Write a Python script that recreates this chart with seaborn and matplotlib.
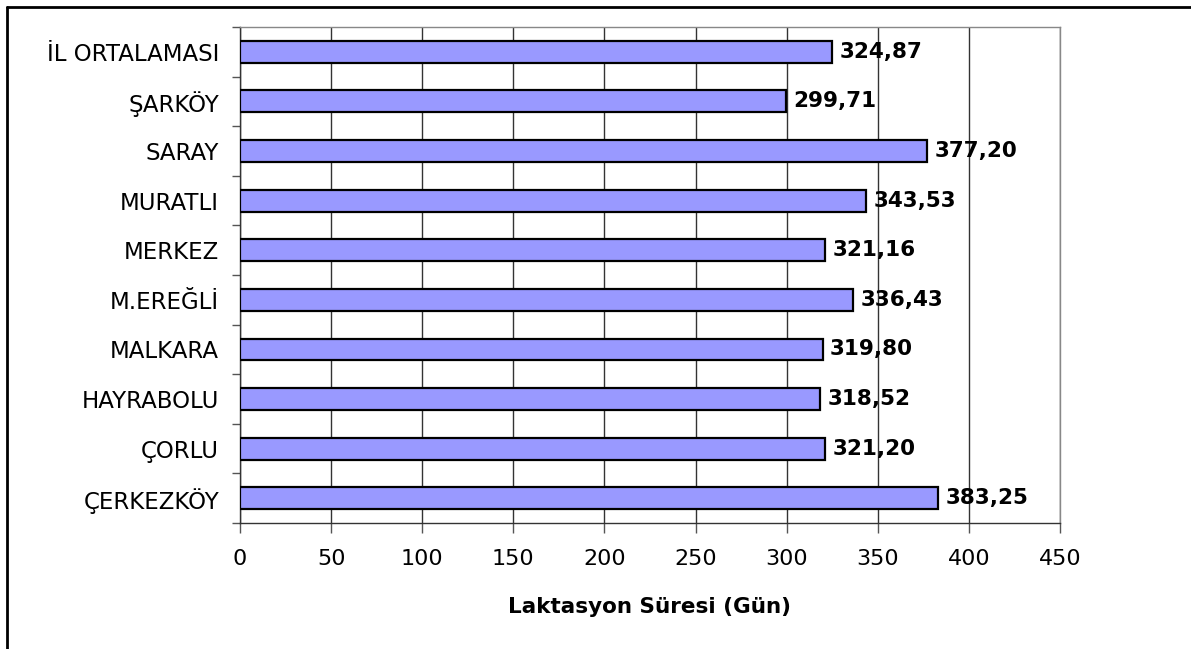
import numpy as np
import pandas as pd
import matplotlib
matplotlib.use("Agg")
import matplotlib.pyplot as plt
from matplotlib.lines import Line2D
import seaborn as sns

ilceler = ["İL ORTALAMASI", "ŞARKÖY", "SARAY", "MURATLI", "MERKEZ",
           "M.EREĞLİ", "MALKARA", "HAYRABOLU", "ÇORLU", "ÇERKEZKÖY"]
laktasyon = [324.87, 299.71, 377.20, 343.53, 321.16,
             336.43, 319.80, 318.52, 321.20, 383.25]
xticks = [0, 50, 100, 150, 200, 250, 300, 350, 400, 450]

df = pd.DataFrame({"ilce": ilceler, "gun": laktasyon})

sns.set_style("white")
plt.rcParams["font.family"] = ["DejaVu Sans"]
plt.rcParams["text.color"] = "black"
plt.rcParams["xtick.color"] = "#555555"
plt.rcParams["ytick.color"] = "#555555"
plt.rcParams["xtick.labelcolor"] = "black"
plt.rcParams["ytick.labelcolor"] = "black"
plt.rcParams["axes.labelcolor"] = "black"

fig = plt.figure(figsize=(11.91, 6.49), dpi=100)
ax = fig.add_axes([0.2015, 0.1941, 0.6885, 0.7643])

sns.barplot(data=df, x="gun", y="ilce", orient="h", color="#9999FF",
            saturation=1, edgecolor="black", linewidth=1.6, width=0.44,
            ax=ax, zorder=3)

ax.set_xlim(0, 450)
ax.set_xticks(xticks)
ax.set_xticklabels([str(t) for t in xticks], fontsize=16)
ax.set_ylim(len(ilceler) - 0.5, -0.5)
ax.tick_params(axis="y", which="major", labelsize=16.5, length=0, pad=15, left=False)
ax.set_yticks(np.arange(len(ilceler) + 1) - 0.5, minor=True)
ax.tick_params(axis="y", which="minor", length=6, width=1, direction="out", left=True)
ax.tick_params(axis="x", which="major", length=7, width=1, direction="out", pad=12, bottom=True)
ax.xaxis.grid(True, color="#333333", linewidth=1, zorder=0)
ax.set_axisbelow(True)

ax.set_ylabel("")
ax.set_xlabel("Laktasyon Süresi (Gün)", fontsize=15.5, fontweight="bold", labelpad=20)

for side in ["top", "right"]:
    ax.spines[side].set_color("#888888")
    ax.spines[side].set_linewidth(1)
for side in ["left", "bottom"]:
    ax.spines[side].set_color("#333333")
    ax.spines[side].set_linewidth(1)

for i, v in enumerate(laktasyon):
    lbl = f"{v:.2f}".replace(".", ",")
    ax.text(v + 4, i, lbl, va="center", ha="left", fontsize=15.5,
            fontweight="bold", zorder=4)

fig.add_artist(Line2D([7 / 1191, 7 / 1191], [0, 1 - 7 / 649], color="black", linewidth=2,
                      transform=fig.transFigure))
fig.add_artist(Line2D([7 / 1191, 1], [1 - 7 / 649, 1 - 7 / 649], color="black", linewidth=2,
                      transform=fig.transFigure))

fig.savefig("out.png", dpi=100)
